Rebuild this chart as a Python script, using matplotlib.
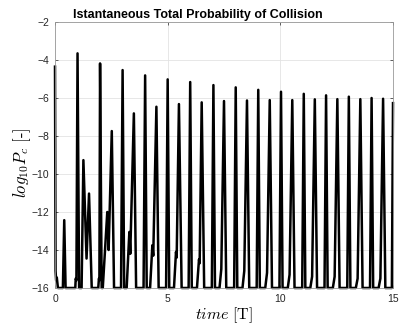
import matplotlib
matplotlib.use("Agg")
import matplotlib.pyplot as plt

plt.rcParams['mathtext.fontset'] = 'cm'
plt.rcParams['font.family'] = ['Liberation Sans', 'DejaVu Sans']

# time samples [T] and log10 of the total collision probability
time = [
    0.00, 0.025, 0.05, 0.08, 0.13,             # start
    0.35, 0.41, 0.47,                          # small early spike
    0.90, 0.92, 0.95, 1.00, 1.07,              # t = 1
    1.18, 1.26, 1.40, 1.51, 1.63,              # double hump
    1.92, 1.95, 1.97, 2.00, 2.07,              # t = 2
    2.12, 2.32, 2.38, 2.52, 2.62,
    2.93, 3.00, 3.07,
    3.18, 3.30, 3.34, 3.50, 3.60,
    3.93, 4.00, 4.07,
    4.22, 4.32, 4.36, 4.50, 4.60,
    4.93, 5.00, 5.07,
    5.28, 5.37, 5.40, 5.50, 5.62,
    5.93, 6.00, 6.07,
    6.30, 6.39, 6.42, 6.51, 6.62,
    6.96, 7.03, 7.10,
    7.30, 7.38, 7.50, 7.60,
    7.95, 8.02, 8.09,
    8.32, 8.40, 8.52, 8.62,
    8.95, 9.02, 9.09,
    9.33, 9.41, 9.53, 9.63,
    9.96, 10.03, 10.10,
    10.33, 10.41, 10.53, 10.63,
    10.97, 11.04, 11.11,
    11.33, 11.41, 11.53, 11.63,
    11.96, 12.03, 12.10,
    12.33, 12.41, 12.53, 12.63,
    12.97, 13.04, 13.11,
    13.35, 13.43, 13.55, 13.65,
    13.98, 14.05, 14.12,
    14.36, 14.44, 14.56, 14.66,
    14.95, 15.00,
]
log_pc = [
    -4.35, -15.1, -15.6, -15.45, -16.0,
    -16.0, -12.43, -16.0,
    -16.0, -15.5, -15.6, -3.65, -16.0,
    -16.0, -9.27, -14.45, -11.03, -16.0,
    -16.0, -15.5, -15.6, -4.18, -16.0,
    -16.0, -12.0, -14.0, -7.74, -16.0,
    -16.0, -4.53, -16.0,
    -16.0, -13.05, -14.2, -6.81, -16.0,
    -16.0, -4.81, -16.0,
    -16.0, -13.75, -14.3, -6.46, -16.0,
    -16.0, -5.02, -16.0,
    -16.0, -14.1, -14.4, -6.32, -16.0,
    -16.0, -5.16, -16.0,
    -16.0, -14.5, -14.7, -6.23, -16.0,
    -16.0, -5.32, -16.0,
    -16.0, -15.0, -6.16, -16.0,
    -16.0, -5.44, -16.0,
    -16.0, -15.1, -6.13, -16.0,
    -16.0, -5.57, -16.0,
    -16.0, -15.2, -6.11, -16.0,
    -16.0, -5.67, -16.0,
    -16.0, -15.3, -6.11, -16.0,
    -16.0, -5.78, -16.0,
    -16.0, -15.4, -6.07, -16.0,
    -16.0, -5.86, -16.0,
    -16.0, -15.4, -6.06, -16.0,
    -16.0, -5.93, -16.0,
    -16.0, -15.5, -6.06, -16.0,
    -16.0, -6.00, -16.0,
    -16.0, -15.5, -6.04, -16.0,
    -16.0, -6.27,
]
x_ticks = [0, 5, 10, 15]
y_ticks = [-16, -14, -12, -10, -8, -6, -4, -2]

fig = plt.figure(figsize=(4.0, 3.27), dpi=100)
ax = fig.add_axes([0.1375, 0.1193, 0.845, 0.8134])

# not clipped, so the edge spikes and the floor at -16 keep full width
ax.plot(time, log_pc, color='black', linewidth=1.8, clip_on=False)

ax.set_xlim(0, 15)
ax.set_ylim(-16, -2)
ax.set_xticks(x_ticks)
ax.set_yticks(y_ticks)
ax.grid(True, color='#e3e3e3', linewidth=0.6)
ax.set_axisbelow(True)
ax.tick_params(direction='in', length=2.5, width=0.5, labelsize=7.5,
               colors='#262626', top=True, right=True, pad=4)
for s in ax.spines.values():
    s.set_color('#999999')
    s.set_linewidth(0.6)

fig.text(0.495, 0.954, 'Istantaneous Total Probability of Collision',
         ha='center', va='center', fontsize=9, fontweight='bold')
ax.set_xlabel(r'$time\ [\mathrm{T}]$', fontsize=11.5)
ax.xaxis.set_label_coords(0.5, -0.065)
ax.set_ylabel(r'$log_{10}P_c\ [\text{-}]$', fontsize=12)
ax.yaxis.set_label_coords(-0.065, 0.47)

fig.savefig('out.png', dpi=100)
